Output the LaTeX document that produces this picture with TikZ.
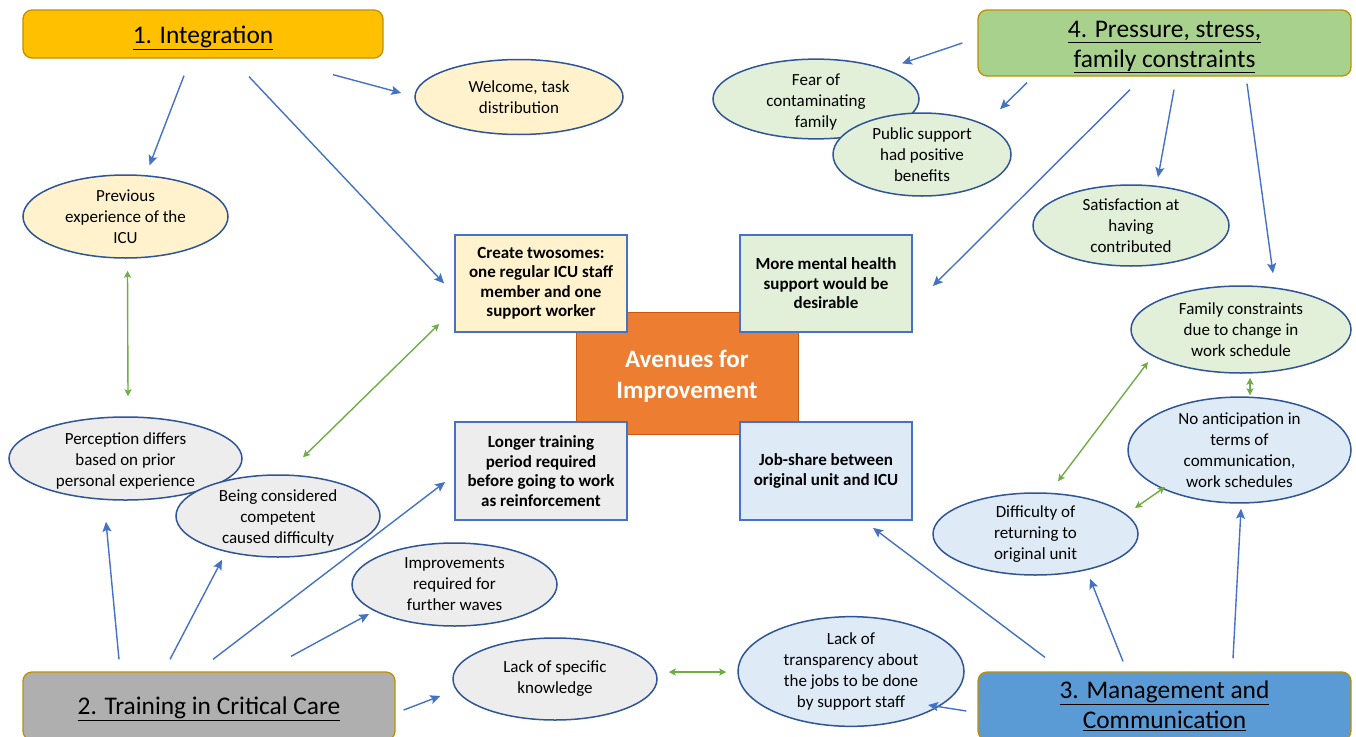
\documentclass[tikz,border=0pt]{standalone}
\usepackage{fontspec}
\setmainfont{Carlito}
\usepackage{xcolor}
\usepackage{tikz}
\usetikzlibrary{shapes.geometric, arrows.meta}

\definecolor{ovalline}{RGB}{47,85,151}
\definecolor{boxline}{RGB}{68,114,196}
\definecolor{themeline}{RGB}{191,144,0}
\definecolor{linkblue}{RGB}{68,114,196}
\definecolor{pairgreen}{RGB}{112,173,71}
\definecolor{yellowlt}{RGB}{255,242,204}
\definecolor{greenlt}{RGB}{226,240,217}
\definecolor{bluelt}{RGB}{222,235,247}
\definecolor{greylt}{RGB}{237,237,237}
\definecolor{gold}{RGB}{255,192,0}
\definecolor{leaf}{RGB}{169,209,142}
\definecolor{slate}{RGB}{175,175,175}
\definecolor{sky}{RGB}{91,155,213}
\definecolor{orangec}{RGB}{237,125,49}
\definecolor{orangedk}{RGB}{197,90,17}

\newcommand{\lowered}[2]{\raisebox{-#1pt}[\height][\depth]{#2}}

\begin{document}
\begin{tikzpicture}[x=1pt, y=-1pt,
  oval/.style={ellipse, draw=ovalline, line width=1.5pt, inner sep=0pt, align=center, font=\fontsize{17}{21}\selectfont},
  idea/.style={rectangle, draw=boxline, line width=1.8pt, minimum width=172pt, align=center, font=\bfseries\fontsize{17}{19.5}\selectfont},
  theme/.style={rectangle, rounded corners=9pt, draw=themeline, line width=1.3pt, inner sep=2pt, align=center, font=\fontsize{25.4}{30}\selectfont},
  blueline/.style={draw=linkblue, line width=1.4pt, -{Stealth[length=10pt, width=9pt, inset=2pt]}},
  greenline/.style={draw=pairgreen, line width=1.4pt, {Stealth[length=7pt, width=7pt, inset=1.5pt]}-{Stealth[length=7pt, width=7pt, inset=1.5pt]}}]
\useasboundingbox (0,0) rectangle (1356,736);

% themes
\node[theme, fill=gold, minimum width=360pt, minimum height=48pt] (int) at (203,34) {\lowered{4}{\underline{1. Integration}}};
\node[theme, fill=leaf, minimum width=373pt, minimum height=66pt] (pres) at (1164.5,43) {\lowered{4}{\underline{4. Pressure, stress,}}\\\lowered{4}{\underline{family constraints}}};
\node[theme, fill=slate, minimum width=372pt, minimum height=68pt] (train) at (209,706) {\lowered{3}{\underline{2. Training in Critical Care}}};
\node[theme, fill=sky, minimum width=373pt, minimum height=68pt] (mgmt) at (1164.5,706) {\underline{3. Management and}\\\underline{Communication}};

% centre
\node[fill=orangec, draw=orangedk, line width=1pt, minimum width=222pt, minimum height=122pt, text=white, align=center, font=\bfseries\fontsize{25}{31}\selectfont] (aven) at (687,373) {\lowered{3}{Avenues for}\\\lowered{3}{Improvement}};
\node[idea, fill=yellowlt, minimum height=97pt] (twos) at (541,283.5) {Create twosomes:\\one regular ICU staff\\member and one\\support worker};
\node[idea, fill=greenlt, minimum height=97pt] (mental) at (826,283.5) {More mental health\\support would be\\desirable};
\node[idea, fill=greylt, minimum height=98pt] (longer) at (541,471) {Longer training\\period required\\before going to work\\as reinforcement};
\node[idea, fill=bluelt, minimum height=98pt] (job) at (826,471) {Job-share between\\original unit and ICU};

% ovals
\node[oval, fill=yellowlt, minimum width=208pt, minimum height=75pt] (welc) at (519,97) {Welcome, task\\distribution};
\node[oval, fill=yellowlt, minimum width=205pt, minimum height=83pt] (prev) at (125.5,216.5) {Previous\\experience of the\\ICU};
\node[oval, fill=greenlt, minimum width=206pt, minimum height=78pt] (fear) at (816,99) {\lowered{3}{Fear of}\\\lowered{3}{contaminating}\\\lowered{3}{family}};
\node[oval, fill=greenlt, minimum width=178pt, minimum height=83pt] (pub) at (922,154.5) {Public support\\had positive\\benefits};
\node[oval, fill=greenlt, minimum width=196pt, minimum height=81pt] (sat) at (1131,225.5) {Satisfaction at\\having\\contributed};
\node[oval, fill=greenlt, minimum width=220pt, minimum height=87pt] (fam) at (1241,329.5) {Family constraints\\due to change in\\work schedule};
\node[oval, fill=bluelt, minimum width=223pt, minimum height=90pt] (noant) at (1239.5,450) {No anticipation in\\terms of\\communication,\\work schedules};
\node[oval, fill=bluelt, minimum width=205pt, minimum height=82pt] (diff) at (1035.5,534) {Difficulty of\\returning to\\original unit};
\node[oval, fill=bluelt, minimum width=226pt, minimum height=93pt] (transp) at (851,671.5) {Lack of\\transparency about\\the jobs to be done\\by support staff};
\node[oval, fill=greylt, minimum width=204pt, minimum height=82pt] (lspec) at (555,679) {Lack of specific\\knowledge};
\node[oval, fill=greylt, minimum width=205pt, minimum height=83pt] (impr) at (454.5,584.5) {Improvements\\required for\\further waves};
\node[oval, fill=greylt, minimum width=233pt, minimum height=83pt] (perc) at (125.5,458.5) {\lowered{2}{Perception differs}\\\lowered{2}{based on prior}\\\lowered{2}{personal experience}};
\node[oval, fill=greylt, minimum width=204pt, minimum height=82pt] (being) at (278,516) {\lowered{2}{Being considered}\\\lowered{2}{competent}\\\lowered{2}{caused difficulty}};

% arrows
\draw[blueline] ([shift={(-19,17)}]int.south) -- ([shift={(24,-9)}]prev.north);
\draw[blueline] ([shift={(46,18)}]int.south) -- ([shift={(-10,0)}]twos.west);
\draw[blueline] ([shift={(130,16)}]int.south) -- ([shift={(-13,-4)}]welc.west);

\draw[blueline] ([shift={(-15,0)}]pres.west) -- ([shift={(86,5)}]fear.north);
\draw[blueline] ([shift={(-137.5,6)}]pres.south) -- ([shift={(78,-3)}]pub.north);
\draw[blueline] ([shift={(-34.5,13)}]pres.south) -- ([shift={(20,2.5)}]mental.east);
\draw[blueline] ([shift={(9.5,13)}]pres.south) -- ([shift={(27,-7)}]sat.north);
\draw[blueline] ([shift={(82.5,7)}]pres.south) -- ([shift={(32,-12)}]fam.north);

\draw[blueline] ([shift={(-119.5,-14)}]mgmt.north) -- ([shift={(47,7)}]job.south);
\draw[blueline] ([shift={(-41.5,-10)}]mgmt.north) -- ([shift={(54.5,3)}]diff.south);
\draw[blueline] ([shift={(68.5,-13)}]mgmt.north) -- ([shift={(1.5,5)}]noant.south);
\draw[blueline] ([shift={(-11,5)}]mgmt.west) -- ([shift={(77,33.5)}]transp.center);

\draw[blueline] ([shift={(-90,-12)}]train.north) -- ([shift={(-19.5,21)}]perc.south);
\draw[blueline] ([shift={(-39,-12)}]train.north) -- ([shift={(-56,2)}]being.south);
\draw[blueline] ([shift={(4,-12)}]train.north) -- ([shift={(-9,11)}]longer.west);
\draw[blueline] ([shift={(82,-15)}]train.north) -- ([shift={(-85.5,29.5)}]impr.center);
\draw[blueline] ([shift={(8,4)}]train.east) -- ([shift={(-12,17)}]lspec.west);

\draw[greenline] ([shift={(2,12)}]prev.south) -- ([shift={(2.5,-20)}]perc.north);
\draw[greenline] ([shift={(25,-17)}]being.north) -- ([shift={(-15,40.5)}]twos.west);
\draw[greenline] ([shift={(11,-7)}]lspec.east) -- ([shift={(-11,0.5)}]transp.west);
\draw[greenline] ([shift={(-93,32.5)}]fam.center) -- ([shift={(22.5,-11)}]diff.north);
\draw[greenline] ([shift={(9,4)}]fam.south) -- ([shift={(10.5,-1)}]noant.north);
\draw[greenline] ([shift={(99.5,-26)}]diff.center) -- ([shift={(-74.5,37)}]noant.center);
\end{tikzpicture}
\end{document}
